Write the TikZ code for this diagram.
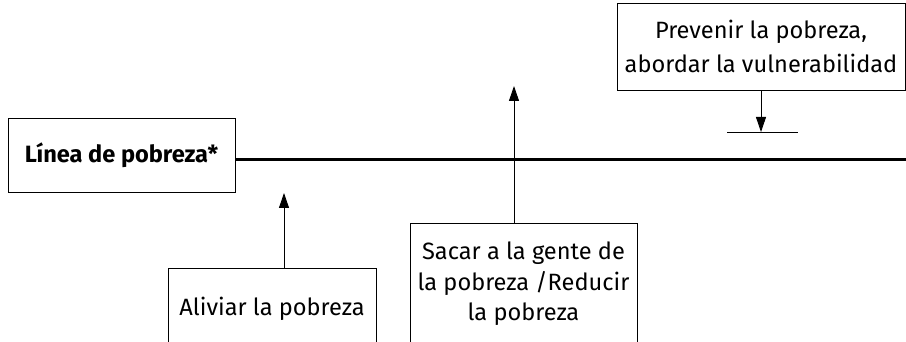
\documentclass[tikz,border=0pt]{standalone}
\usepackage{fontspec}
\setmainfont{Fira Sans}
\usetikzlibrary{arrows.meta}
\newcommand{\boxfont}{\fontsize{23.6}{30.5}\selectfont}

\begin{document}
\begin{tikzpicture}[x=1pt,y=-1pt,
    box/.style={draw,line width=0.9pt,align=center,font=\boxfont},
    arr/.style={-{Triangle[length=15pt,width=10pt]},line width=0.9pt}]
    \useasboundingbox (0,0) rectangle (906,342);
    \clip (0,0) rectangle (906,342);
    % boxes
    \node[box,minimum width=227pt,minimum height=74pt,font=\boxfont\bfseries] (linea) at (121.5,155) {Línea de pobreza*};
    \node[box,minimum width=208pt,inner ysep=29pt,anchor=north] (aliviar) at (272,268) {Aliviar la pobreza};
    \node[box,minimum width=227pt,inner ysep=18.7pt,anchor=north] (sacar) at (523.5,223) {Sacar a la gente de\\la pobreza /Reducir\\la pobreza\rule[-12pt]{0pt}{12pt}};
    \node[box,minimum width=288pt,minimum height=87pt] (prevenir) at (761,46.5) {Prevenir la pobreza,\\[3.5pt]abordar la vulnerabilidad};
    % coordinates
    \coordinate (lineend) at (906,159.5);
    \coordinate (aliviartip) at (284,193);
    \coordinate (sacartip) at (514,86);
    \coordinate (bar) at (761,132);
    % lines and arrows
    \draw[line width=2.4pt] (lineend -| linea.east) -- (lineend);
    \draw[arr] (aliviartip |- aliviar.north) -- (aliviartip);
    \draw[arr] (sacartip |- sacar.north) -- (sacartip);
    \draw[arr] (prevenir.south) -- (bar);
    \draw[line width=0.9pt] ([xshift=-34pt]bar) -- ([xshift=37pt]bar);
\end{tikzpicture}
\end{document}
